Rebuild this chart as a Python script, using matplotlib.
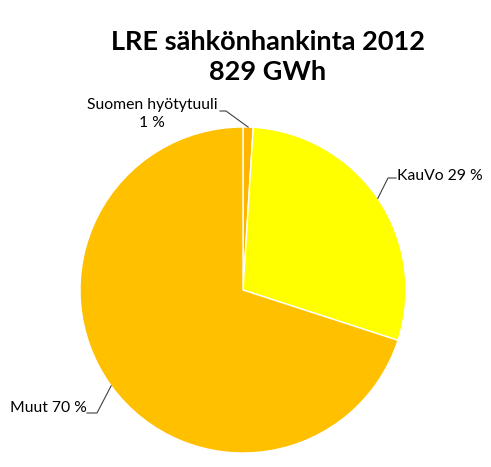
import numpy as np
import matplotlib
matplotlib.use("Agg")
import matplotlib.pyplot as plt

# data
labels = ["Suomen hyötytuuli", "KauVo", "Muut"]
shares = [1, 29, 70]
colors = ["#FFB400", "#FFFF00", "#FFC000"]
title = "LRE sähkönhankinta 2012\n829 GWh"

plt.rcParams["font.family"] = ["Lato", "DejaVu Sans"]

W, H = 491, 467
fig = plt.figure(figsize=(W / 100, H / 100), dpi=100)

# pie box in pixels: centre (243, 290), radius 163
cx, cy, r = 243, 290, 163
ax = fig.add_axes([(cx - r) / W, (H - cy - r) / H, 2 * r / W, 2 * r / H])
wedges, _ = ax.pie(shares, colors=colors, startangle=90, counterclock=False,
                   radius=1, wedgeprops=dict(edgecolor="white", linewidth=1))
ax.set_xlim(-1, 1)
ax.set_ylim(-1, 1)
ax.set_aspect("equal")
ax.axis("off")

fig.text(268 / W, 1 - 57 / H, title, ha="center", va="center",
         fontsize=19.5, fontweight="bold", linespacing=1.3)


def px(x, y):
    # pixel -> data coords of the pie axes
    return (x - cx) / r, (cy - y) / r


# label text, elbow and text end positions (pixels)
label_text = ["Suomen hyötytuuli\n1 %", "KauVo 29 %", "Muut 70 %"]
label_pos = [(152, 114), (397, 176), (48, 408)]
label_ha = ["center", "left", "center"]
elbows = [(226, 111), (388, 178), (97, 413)]
ends = [(220, 111), (396, 178), (87, 413)]

for w, txt, pos, ha, el, en in zip(wedges, label_text, label_pos, label_ha,
                                   elbows, ends):
    ang = np.deg2rad((w.theta1 + w.theta2) / 2)
    ex, ey = np.cos(ang), np.sin(ang)
    xs = [ex, px(*el)[0], px(*en)[0]]
    ys = [ey, px(*el)[1], px(*en)[1]]
    ax.plot(xs, ys, color="#404040", lw=0.8, clip_on=False)
    tx, ty = px(*pos)
    ax.text(tx, ty, txt, ha=ha, va="center", fontsize=11.3,
            linespacing=1.3, color="black")

fig.savefig("out.png", dpi=100)
